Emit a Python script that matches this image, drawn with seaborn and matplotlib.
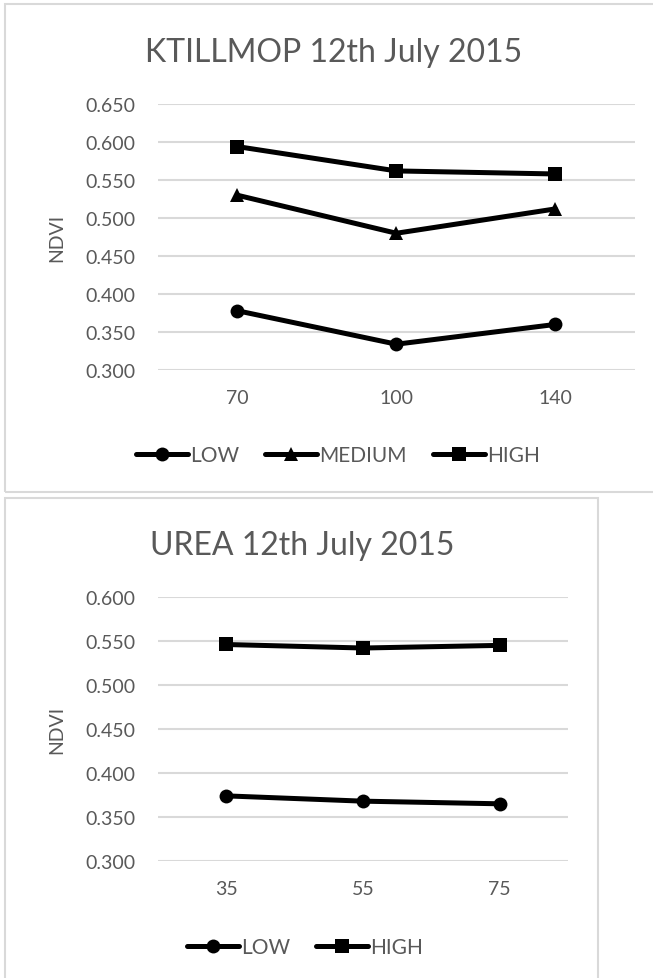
import matplotlib
matplotlib.use("Agg")
import matplotlib.pyplot as plt
import seaborn as sns
import pandas as pd
from matplotlib.patches import Rectangle

# KTILLMOP panel
kt_rates = ["70", "100", "140"]
kt_low = [0.378, 0.334, 0.360]
kt_medium = [0.530, 0.480, 0.512]
kt_high = [0.594, 0.562, 0.558]

# UREA panel
urea_rates = ["35", "55", "75"]
urea_low = [0.374, 0.368, 0.365]
urea_high = [0.546, 0.542, 0.545]

TEXT = "#595959"
GRID = "#d9d9d9"

sns.set_theme(style="white")
plt.rcParams["font.family"] = ["Lato", "DejaVu Sans"]


def long_df(rates, series):
    rows = []
    for name, vals in series.items():
        for r, v in zip(rates, vals):
            rows.append({"rate": r, "NDVI": v, "level": name})
    return pd.DataFrame(rows)


def draw_panel(fig, rect, title, title_xy, rates, series, markers, yticks, legend_xy):
    ax = fig.add_axes(rect)
    df = long_df(rates, series)
    levels = list(series.keys())
    sns.lineplot(data=df, x="rate", y="NDVI", hue="level", style="level",
                 hue_order=levels, style_order=levels,
                 palette=["black"] * len(levels), markers=markers, dashes=False,
                 linewidth=3.6, markersize=10, markeredgewidth=0, sort=False,
                 ax=ax, legend=True)
    ax.set_xlim(-0.5, len(rates) - 0.5)
    ax.set_ylim(yticks[0], yticks[-1])
    ax.set_yticks(yticks)
    ax.set_yticklabels([f"{t:.3f}" for t in yticks])
    ax.yaxis.grid(True, color=GRID, linewidth=1.5)
    ax.set_axisbelow(True)
    for s in ax.spines.values():
        s.set_visible(False)
    ax.tick_params(axis="both", length=0, labelsize=14, colors=TEXT)
    ax.tick_params(axis="y", pad=16)
    ax.tick_params(axis="x", pad=14)
    ax.set_xlabel("")
    ax.set_ylabel("")
    # y label and title centred on the chart area like the spreadsheet chart
    mid_y = rect[1] + rect[3] / 2
    fig.text(0.0873, mid_y, "NDVI", rotation=90, ha="center", va="center",
             fontsize=14, color=TEXT)
    fig.text(title_xy[0], title_xy[1], title, ha="center", va="baseline",
             fontsize=23, color=TEXT)
    handles, labels = ax.get_legend_handles_labels()
    ax.get_legend().remove()
    for h in handles:
        h.set_linewidth(3.6)
        h.set_markersize(10)
    fig.legend(handles, labels, loc="center", bbox_to_anchor=legend_xy,
               ncol=len(levels), frameon=False, fontsize=15, labelcolor=TEXT,
               handlelength=2.5, handletextpad=0.1, columnspacing=1.25)
    return ax


fig = plt.figure(figsize=(6.53, 9.79), dpi=100)

# chart area borders
fig.patches.append(Rectangle((0.0077, 0.4964), 1.0, 0.4985, transform=fig.transFigure,
                             fill=False, edgecolor=GRID, linewidth=1.5))
fig.patches.append(Rectangle((0.0077, -0.01), 0.9081, 0.5003, transform=fig.transFigure,
                             fill=False, edgecolor=GRID, linewidth=1.5))

draw_panel(fig, [0.242, 0.621, 0.730, 0.2717], "KTILLMOP 12th July 2015",
           (0.5115, 0.9367), kt_rates,
           {"LOW": kt_low, "MEDIUM": kt_medium, "HIGH": kt_high},
           ["o", "^", "s"], [0.30, 0.35, 0.40, 0.45, 0.50, 0.55, 0.60, 0.65],
           (0.5176, 0.5342))

draw_panel(fig, [0.242, 0.1195, 0.6279, 0.2697], "UREA 12th July 2015",
           (0.4625, 0.4331), urea_rates,
           {"LOW": urea_low, "HIGH": urea_high},
           ["o", "s"], [0.30, 0.35, 0.40, 0.45, 0.50, 0.55, 0.60],
           (0.467, 0.0317))

fig.savefig("out.png", dpi=100)
